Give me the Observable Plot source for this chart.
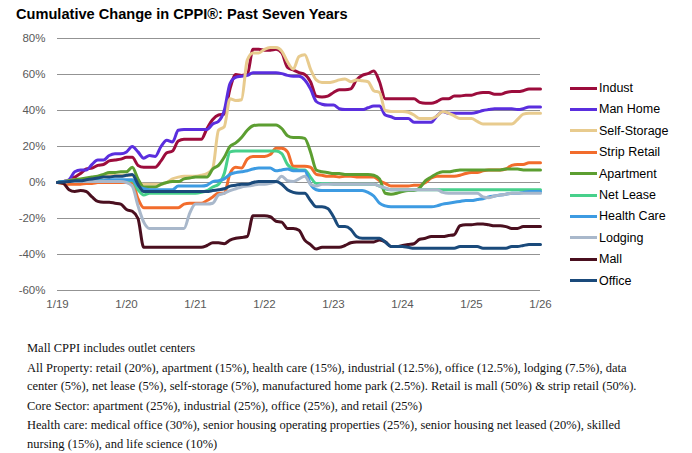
<!DOCTYPE html>
<html><head><meta charset="utf-8">
<script src="https://cdn.jsdelivr.net/npm/d3@7"></script>
<script src="https://cdn.jsdelivr.net/npm/@observablehq/plot@0.6"></script>
<style>
body{margin:0;background:#fff;width:692px;height:453px;position:relative;overflow:hidden;font-family:"Liberation Sans",Arial,sans-serif;}
#title{position:absolute;left:16px;top:6px;font-weight:bold;font-size:14.6px;color:#000;white-space:nowrap;}
#chart{position:absolute;left:0;top:30px;}
#legend{position:absolute;left:570px;top:0;}
.li{position:absolute;left:0;height:14px;display:flex;align-items:center;white-space:nowrap;font-size:12.5px;color:#000}
.sw{display:inline-block;width:27px;height:3px;margin-right:2px}
#footer{position:absolute;left:27px;top:339px;font-family:"Liberation Serif","Times New Roman",serif;font-size:12.5px;color:#111;line-height:18.5px;white-space:nowrap}
#footer div{margin:0}
</style>
</head><body>
<div id="title">Cumulative Change in CPPI®: Past Seven Years</div>
<div id="chart"></div>
<div id="legend"></div>
<div id="footer"></div>
<script>
const startMonth = "2019-01"; // monthly observations, Jan 2019 – Jan 2026
const xTicks = [0, 12, 24, 36, 48, 60, 72, 84];
const xTickLabels = ["1/19","1/20","1/21","1/22","1/23","1/24","1/25","1/26"];
const yTicks = [-60, -40, -20, 0, 20, 40, 60, 80];

const names = ["Indust","Man Home","Self-Storage","Strip Retail","Apartment","Net Lease","Health Care","Lodging","Mall","Office"];
const colors = ["#9c0c3c","#5a2ede","#e8cb8e","#f26c2c","#5c9e31","#47d08b","#3d9be2","#a9b8cb","#4a0f1f","#1a4a7b"];

const indust = [0,0.5,1,3,5,7.5,8,9.5,10,12,12.5,13,
 14,14,9.5,8.5,8.5,8.5,12,16.5,17.5,23,24,24,
 24,24,30,35,37.5,38,52,60,59.5,60,74,74,
 73.5,73.5,74,72,64,62.5,61,60,56,48,47.5,48,
 50,51.5,51.5,52,57,59.5,60.5,62,56,46.5,46.5,46.5,
 46.5,46.5,46.5,44.5,44,44,45,46.5,46.5,48,48,48.5,
 48.5,49.5,50,50,49,49,50,50.5,50.5,51,52,52,52];
const manHome = [0,0.5,1.5,6,7,7,10,12.5,12.5,15,16,16,
 17,20,17,13.5,15,14.5,20,23.5,22.5,29,29.5,29.5,
 29.5,29.5,29.5,32.5,34,40,55,58.5,59,59.5,61,61,
 61,61,61,60.5,59.5,59,59,57,52,45,43.5,43,
 43,41,40.5,40.5,40.5,40.5,41.5,42.5,42.5,37.5,36.5,35.5,
 35.5,35.5,33.5,33.5,33.5,33.5,37,39.5,38.5,38.5,38.5,38.5,
 38.5,39,40,40.5,41,41,41,41,40.5,41,42,42,42];
const selfStorage = [0,0.5,1,1.5,1.5,2,2.5,3,3.5,4,4,4,
 4,4,0,-1,-1,-1,-1,0,2,3,3.5,3.5,
 3.5,4,5,8,29,31,46.5,45.5,46,68,72,72,
 74,75,75,73,67,63,70,71,63,57,55.5,55.5,
 56,57,57.5,56,57,56.5,56,51,50,40,39.5,39.5,
 39.5,39,37.5,35.5,35.5,35.5,37,39.5,38.5,37,35.5,35.5,
 35.5,34,32.5,32.5,32.5,32.5,32.5,32.5,35,38,38.5,38.5,38.5];
const stripRetail = [0,-0.5,-1,-1,-1,-0.5,-0.5,0,0,0,0,0,
 0,0,-9,-14,-14,-14,-14,-14,-14,-14,-12,-11.5,
 -11.5,-11.5,-10,-8,-6,-6,5,8.5,8,13,14.5,14.5,
 14.5,15.5,19,19,17,9,9,9,8.5,4.5,4,3.5,
 3.5,3,3.5,3.5,3,3,3,3,1,-0.5,-2,-2,
 -2,-2,-1.5,-1.5,0,2.5,3.5,3.5,3.5,3.5,4,5,
 5.5,5.5,6.5,7,7,7,7.5,9.5,10,10,11,11,11];
const apartment = [0,0.5,1,1.5,2,2.5,3,3.5,4.5,5.5,5.5,6,
 6,8.5,2,-2.5,-2.5,-2.5,-1,0,0.5,0.5,2,2.5,
 3,3,3,7.5,9.5,14,20,22,25,29,31.5,32,
 32,32,32,30,26,25,25,24.5,17,7,6,5.5,
 5,5,4.5,4.5,4.5,4.5,4.5,4,2,-6,-6.5,-6,
 -5,-4.5,-4.5,-3,1,3,5,6,6,6.5,7,7,
 7,7,7,7,7,7,7.5,7.5,7.5,7,7,7,7];
const netLease = [0,0.5,0.5,0.5,1,1,1,1,1,1,1,1,
 1,1,-4,-7,-6,-6,-6,-6,-6,-6,-6,-6,
 -6,-5.5,-4.5,-2.5,-1,5,17,17.5,17.5,17.5,17.5,17.5,
 17.5,17.5,17.5,16,10,7.5,7,7,3,-0.5,-0.5,-0.5,
 -1,-1,-1,-1,-1,-1,-1,-1,-2,-3.5,-4,-4,
 -4,-4,-4,-4,-4,-4,-4,-4,-4,-4,-4,-4,
 -4,-4,-4,-4,-4,-4,-4,-4,-4,-4,-4,-4,-4];
const healthCare = [0,0.5,0.5,0.5,1,1,1,1,1,1.5,1.5,1.5,
 1.5,1.5,-2,-3.5,-4,-4,-4,-4,-4,-2,-2,-2,
 -2,-2,-1.5,0.5,1,2,4.5,5.5,6,6.5,7.5,8,
 8,8,6.5,7,7.5,6.5,6.5,6.5,-1,-4,-4.5,-4.5,
 -4.5,-4.5,-4.5,-4.5,-4.5,-4.5,-5.5,-7.5,-11.5,-13,-13.5,-13.5,
 -13.5,-13.5,-13.5,-13.5,-13.5,-13.5,-13,-12,-11.5,-11,-10.5,-10,
 -10,-9.5,-9,-8,-7.5,-7,-6.5,-6,-6,-5.5,-5,-5,-5];
const lodging = [0,0,0.5,0.5,0.5,0.5,0.5,0.5,0.5,0.5,0.5,0.5,
 0,-2,-13,-22,-25.5,-25.5,-25.5,-25.5,-25.5,-25.5,-25.5,-17,
 -12,-12,-12,-11.5,-7,-6,-4.5,-3.5,-2.5,-2,-1.5,-1,
 -1,-0.5,0.5,3.5,1,0.5,2,3.5,-1,-2,-1,-1,
 -1,-1,-1,-1,-1,-1,-1,-1,-2,-3,-4,-4,
 -4,-4,-4,-4,-4,-4,-4,-5.5,-6,-6,-6,-6,
 -6,-6,-8,-8.5,-7.5,-7,-6.5,-6,-6,-6,-6,-6,-6];
const mall = [0,-0.5,-4,-5,-4.5,-5,-8,-10.5,-11,-11,-11.5,-12,
 -15,-16,-20,-36,-36,-36,-36,-36,-36,-36,-36,-36,
 -36,-36,-35,-33.5,-33.5,-34,-32,-31,-30.5,-30,-18.5,-18.5,
 -18.5,-19,-21.5,-22,-25.5,-25.5,-26.5,-32,-34.5,-37,-36,-36,
 -36,-36,-35,-33.5,-33,-33,-33,-33,-32,-33,-35.5,-35.5,
 -35,-34.5,-34,-31.5,-31,-30,-30,-30,-29.5,-29,-24,-23.5,
 -23.5,-23,-23,-23.5,-24,-24,-24.5,-25.5,-25.5,-24.5,-24.5,-24.5,-24.5];
const office = [0,0.3,0.5,1,1,1.5,2,2.5,3,3,3.5,3.5,
 4,4.5,-1,-5,-5,-5,-5,-5,-5,-5,-5,-5,
 -5,-5,-5,-4.5,-4,-3.5,-2,-1.5,-1,-1,0,0.5,
 0.5,0.5,0.5,-1,-4,-5.5,-6,-6,-10,-13.5,-13.5,-14.5,
 -19,-24.5,-24.5,-26,-30,-31,-31,-31,-31,-33,-35.5,-35.5,
 -35.5,-36,-36.5,-36.5,-36.5,-36.5,-36.5,-36.5,-36.5,-36.5,-35.5,-35.5,
 -35.5,-35.5,-36.5,-36.5,-36.5,-36.5,-36.5,-35.5,-35.5,-35,-34.5,-34.5,-34.5];

const footerLines = [
 ["Mall CPPI includes outlet centers"],
 ["All Property: retail (20%), apartment (15%), health care (15%), industrial (12.5%), office (12.5%), lodging (7.5%), data",
  "center (5%), net lease (5%), self-storage (5%), manufactured home park (2.5%). Retail is mall (50%) & strip retail (50%)."],
 ["Core Sector: apartment (25%), industrial (25%), office (25%), and retail (25%)"],
 ["Health care: medical office (30%), senior housing operating properties (25%), senior housing net leased (20%), skilled",
  "nursing (15%), and life science (10%)"]
];

const seriesValues = [indust, manHome, selfStorage, stripRetail, apartment, netLease, healthCare, lodging, mall, office];
const rows = seriesValues.flatMap((vals, s) => vals.map((v, i) => ({m: i, v, name: names[s]})));

const chart = Plot.plot({
  width: 692, height: 285,
  marginLeft: 57, marginRight: 152, marginTop: 8, marginBottom: 25,
  style: {fontFamily: '"Liberation Sans", Arial, sans-serif', fontSize: "11.5px", color: "#595959", background: "transparent"},
  x: {domain: [0, 84], ticks: xTicks, tickFormat: d => xTickLabels[xTicks.indexOf(d)], tickSize: 0, tickPadding: 9, label: null},
  y: {domain: [-60, 80], ticks: yTicks, tickFormat: d => d + "%", tickSize: 0, tickPadding: 12, label: null},
  color: {domain: names, range: colors},
  marks: [
    Plot.gridY(yTicks, {stroke: "#939393", strokeOpacity: 1, strokeWidth: 1}),
    Plot.axisX({ticks: xTicks, tickFormat: d => xTickLabels[xTicks.indexOf(d)], tickSize: 0, tickPadding: 9, fill: "#595959"}),
    Plot.axisY({ticks: yTicks, tickFormat: d => d + "%", tickSize: 0, tickPadding: 12, fill: "#595959"}),
    Plot.line(rows, {x: "m", y: "v", z: "name", stroke: "name", strokeWidth: 3, curve: "monotone-x"})
  ]
});
document.getElementById("chart").appendChild(chart);

const lg = document.getElementById("legend");
const rowCenters0 = 88, rowStep = 21.4;
names.forEach((n, i) => {
  const d = document.createElement("div");
  d.className = "li";
  d.style.top = (rowCenters0 + i * rowStep - 7) + "px";
  d.innerHTML = `<span class="sw" style="background:${colors[i]}"></span><span>${n}</span>`;
  lg.appendChild(d);
});

const ft = document.getElementById("footer");
footerLines.forEach((para, i) => {
  const p = document.createElement("div");
  p.style.marginTop = i === 0 ? "0px" : "1px";
  p.innerHTML = para.join("<br>");
  ft.appendChild(p);
});
</script>
</body></html>
